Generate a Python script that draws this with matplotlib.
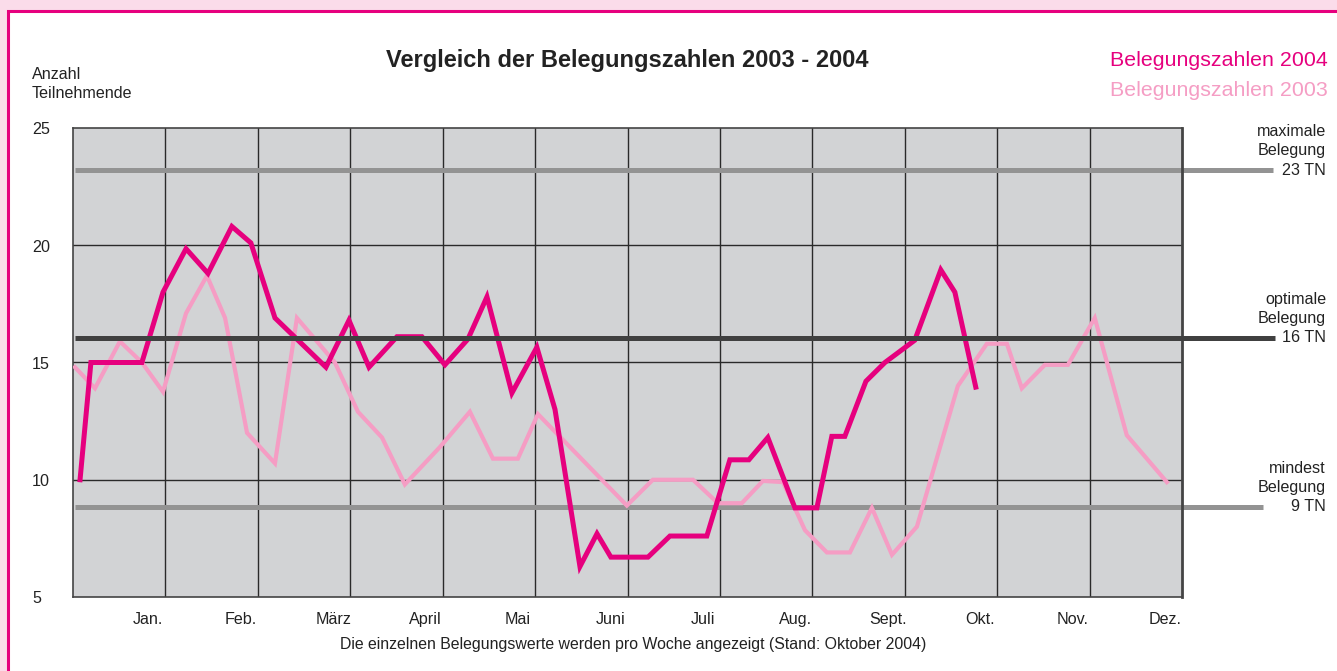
"""Vergleich der Belegungszahlen 2003 - 2004 (weekly occupancy, line chart)."""

import matplotlib

matplotlib.use("Agg")

import matplotlib.pyplot as plt  # noqa: E402
from matplotlib.patches import Rectangle  # noqa: E402
from matplotlib.transforms import blended_transform_factory  # noqa: E402

# ---------------------------------------------------------------------------
# Data (x = calendar week position, y = participants)
# ---------------------------------------------------------------------------
MONTHS = ["Jan.", "Feb.", "März", "April", "Mai", "Juni",
          "Juli", "Aug.", "Sept.", "Okt.", "Nov.", "Dez."]

WEEKS_2004 = [0.33, 0.84, 3.23, 4.22, 5.30, 6.33, 7.45, 8.34, 9.47, 11.86,
              12.94, 13.88, 15.19, 16.36, 17.44, 18.52, 19.41, 20.58, 21.75,
              22.60, 23.77, 24.57, 25.22, 26.96, 27.99, 29.72, 30.80, 31.69,
              32.58, 33.85, 34.88, 35.58, 36.19, 37.18, 38.07, 39.47, 40.69,
              41.35, 42.33]
VALUES_2004 = [10.0, 15.0, 15.0, 18.0, 19.85, 18.8, 20.8, 20.1, 16.9, 14.8,
               16.8, 14.8, 16.1, 16.1, 14.9, 16.0, 17.8, 13.7, 15.65,
               13.0, 6.3, 7.7, 6.7, 6.7, 7.6, 7.6, 10.85, 10.85,
               11.8, 8.8, 8.8, 11.85, 11.85, 14.2, 15.0, 15.95, 18.95,
               18.0, 13.95]

WEEKS_2003 = [0.09, 1.03, 2.20, 3.23, 4.22, 5.30, 6.28, 7.13, 8.16, 9.47,
              10.50, 12.28, 13.36, 14.49, 15.56, 17.21, 18.61, 19.69, 20.86,
              21.80, 25.97, 27.19, 29.07, 30.24, 31.36, 32.35, 33.29, 34.32,
              35.35, 36.43, 37.46, 38.40, 39.57, 41.49, 42.85, 43.79, 44.49,
              45.57, 46.65, 47.91, 49.41, 51.29]
VALUES_2003 = [14.8, 13.9, 15.9, 15.0, 13.75, 17.1, 18.7, 16.9, 12.0, 10.7,
               16.9, 15.0, 12.9, 11.8, 9.8, 11.4, 12.9, 10.9, 10.9,
               12.8, 8.9, 10.0, 10.0, 9.0, 9.0, 9.95, 9.9, 7.85,
               6.9, 6.9, 8.8, 6.8, 8.0, 14.0, 15.8, 15.8, 13.9,
               14.9, 14.9, 16.9, 11.9, 9.9]

REF_LEVELS = [23.2, 16.05, 8.85]
REF_LABELS = ["maximale\nBelegung\n23 TN", "optimale\nBelegung\n16 TN",
              "mindest\nBelegung\n9 TN"]
REF_ENDS = [56.25, 56.35, 55.8]

Y_TICKS = [5, 10, 15, 20, 25]

# ---------------------------------------------------------------------------
# Style
# ---------------------------------------------------------------------------
MAGENTA = "#e6007e"
PINK = "#f59dc4"
PLOT_BG = "#d2d3d5"
REF_GRAY = "#939393"
REF_DARK = "#404040"
GRID = "#2a2a2a"
TEXT = "#222222"
SMALL = 11.6

plt.rcParams["font.family"] = ["Liberation Sans", "DejaVu Sans"]

fig = plt.figure(figsize=(13.37, 6.71), dpi=100)
fig.patch.set_facecolor("#fbdcea")
fig.add_artist(Rectangle((8 / 1337, -0.2), 1.2, 1.2 - 11 / 671,
                         transform=fig.transFigure, facecolor="white",
                         edgecolor=MAGENTA, linewidth=2.2, zorder=0))

ax = fig.add_axes([73 / 1337, 74 / 671, 1109 / 1337, 469 / 671])
ax.set_facecolor(PLOT_BG)
ax.set_xlim(0, 52)
ax.set_ylim(5, 25)
ax.set_xticks([])
ax.set_yticks([])
for side, spine in ax.spines.items():
    spine.set_color("#444444")
    spine.set_linewidth(1.2)
ax.spines["right"].set_linewidth(2.0)

# grid: month boundaries and every 5 participants
for i in range(1, 12):
    ax.axvline(i * 52 / 12, color=GRID, linewidth=1.0, zorder=1)
for yv in [10, 15, 20]:
    ax.axhline(yv, color=GRID, linewidth=1.0, zorder=1)

# reference levels (extend beyond the plot to the labels)
ref_colors = [REF_GRAY, REF_DARK, REF_GRAY]
ref_z = [2, 5, 2]
for lvl, end, col, z in zip(REF_LEVELS, REF_ENDS, ref_colors, ref_z):
    ax.plot([0.1, end], [lvl, lvl], color=col, linewidth=3.6,
            solid_capstyle="butt", clip_on=False, zorder=z)

ax.plot(WEEKS_2003, VALUES_2003, color=PINK, linewidth=3.0, zorder=3,
        solid_joinstyle="miter")
ax.plot(WEEKS_2004, VALUES_2004, color=MAGENTA, linewidth=3.6, zorder=4,
        solid_joinstyle="miter")

# labels
ytrans = blended_transform_factory(ax.transAxes, ax.transData)
for yv in Y_TICKS:
    ax.text(-41 / 1109, yv - 0.08, str(yv), transform=ytrans, ha="left",
            va="center", fontsize=SMALL, color=TEXT)

for lvl, lab in zip(REF_LEVELS, REF_LABELS):
    ax.text(1253 / 1109, lvl + 0.82, lab, transform=ytrans, ha="right",
            va="center", fontsize=SMALL, color=TEXT, linespacing=1.36)

for i, name in enumerate(MONTHS):
    ax.text((i + 1) * 52 / 12 - 0.8, 4.05, name, ha="center", va="center",
            fontsize=SMALL, color=TEXT, clip_on=False)

fig.text(627 / 1337, 1 - 60 / 671, "Vergleich der Belegungszahlen 2003 - 2004",
         ha="center", va="center", fontsize=17, fontweight="bold", color=TEXT)
fig.text(1328 / 1337, 1 - 61 / 671, "Belegungszahlen 2004", ha="right",
         va="center", fontsize=15.4, color=MAGENTA)
fig.text(1328 / 1337, 1 - 90 / 671, "Belegungszahlen 2003", ha="right",
         va="center", fontsize=15.4, color=PINK)
fig.text(32 / 1337, 1 - 84 / 671, "Anzahl\nTeilnehmende", ha="left",
         va="center", fontsize=SMALL, color=TEXT, linespacing=1.38)
fig.text(633 / 1337, 1 - 645 / 671,
         "Die einzelnen Belegungswerte werden pro Woche angezeigt "
         "(Stand: Oktober 2004)",
         ha="center", va="center", fontsize=11.4, color=TEXT)

fig.savefig("out.png", dpi=100, facecolor=fig.get_facecolor())
